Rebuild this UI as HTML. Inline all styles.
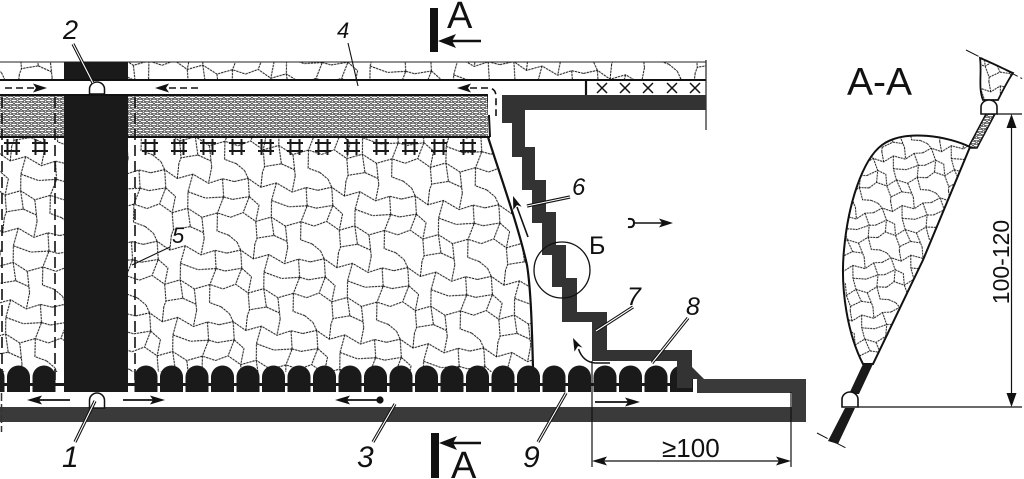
<!DOCTYPE html>
<html><head><meta charset="utf-8"><style>
html,body{margin:0;padding:0;background:#fff;}
svg{display:block;}
text{font-family:"Liberation Sans",sans-serif;fill:#111;}
.it{font-style:italic;}
</style></head><body>
<svg width="1024" height="479" viewBox="0 0 1024 479" xmlns="http://www.w3.org/2000/svg">
<defs>
<pattern id="rock" width="56" height="48" patternUnits="userSpaceOnUse" patternTransform="scale(1.5) rotate(6)">
<rect width="56" height="48" fill="#fff"/>
<path d="M0,8 L9,5 L18,10 L28,6 L39,11 L48,7 L56,8 M0,32 L8,28 L17,33 L27,29 L37,34 L47,30 L56,32 M9,5 L11,17 L8,28 M28,6 L26,18 L27,29 M48,7 L50,19 L47,30 M26,18 L38,21 L50,19 M0,20 L11,17 M50,19 L56,20 M17,33 L19,44 L18,48 M18,0 L18,10 M37,34 L40,48 M40,0 L39,11 M27,29 L30,41 L19,44 M47,30 L48,42 L56,44 M0,44 L6,48 M6,0 L9,5 M30,41 L39,44 M11,17 L18,22 L17,33" fill="none" stroke="#111" stroke-width="0.65" stroke-dasharray="1.6 0.5"/>
</pattern>
<pattern id="rock2" width="56" height="48" patternUnits="userSpaceOnUse" patternTransform="scale(1.05) rotate(-10)">
<rect width="56" height="48" fill="#fff"/>
<path d="M0,8 L9,5 L18,10 L28,6 L39,11 L48,7 L56,8 M0,32 L8,28 L17,33 L27,29 L37,34 L47,30 L56,32 M9,5 L11,17 L8,28 M28,6 L26,18 L27,29 M48,7 L50,19 L47,30 M26,18 L38,21 L50,19 M0,20 L11,17 M50,19 L56,20 M17,33 L19,44 L18,48 M18,0 L18,10 M37,34 L40,48 M40,0 L39,11 M27,29 L30,41 L19,44 M47,30 L48,42 L56,44 M0,44 L6,48 M6,0 L9,5 M30,41 L39,44 M11,17 L18,22 L17,33" fill="none" stroke="#111" stroke-width="0.9" stroke-dasharray="2 0.7"/>
</pattern>
<pattern id="mesh" width="7" height="6" patternUnits="userSpaceOnUse">
<rect width="7" height="6" fill="#fff"/>
<ellipse cx="3.5" cy="1.5" rx="3" ry="1.3" fill="none" stroke="#222" stroke-width="0.7"/>
<ellipse cx="0" cy="4.5" rx="3" ry="1.3" fill="none" stroke="#222" stroke-width="0.7"/>
<ellipse cx="7" cy="4.5" rx="3" ry="1.3" fill="none" stroke="#222" stroke-width="0.7"/>
</pattern>
<path id="arch" d="M0,392 V377 A11.5,11.5 0 0 1 23,377 V392 Z" fill="#1a1a1a"/>
<g id="sup" stroke="#1a1a1a" stroke-width="2" fill="none">
<path d="M-4.5,139 V155 M4.5,139 V155 M-8,143 H8 M-8,151 H8"/>
</g>
</defs>

<!-- top ore strip -->
<rect x="0" y="62" width="706" height="18" fill="url(#rock)"/>
<line x1="0" y1="62" x2="706" y2="62" stroke="#222" stroke-width="1"/>

<!-- main rock zone -->
<path d="M0,137 H488 C500,175 518,225 527,265 C531,290 532,330 533,372 H0 Z" fill="url(#rock)"/>
<path d="M488,137 C500,175 518,225 527,265 C531,290 532,330 533,368" fill="none" stroke="#111" stroke-width="2.2"/>

<!-- mesh zone -->
<rect x="0" y="95" width="488" height="42" fill="url(#mesh)"/>
<line x1="488" y1="95" x2="490" y2="137" stroke="#111" stroke-width="2"/>
<line x1="0" y1="137" x2="490" y2="137" stroke="#111" stroke-width="2"/>

<!-- support symbols -->
<g>
<use href="#sup" x="12" y="0"/><use href="#sup" x="40" y="0"/>
<use href="#sup" x="150" y="0"/><use href="#sup" x="179" y="0"/><use href="#sup" x="208" y="0"/><use href="#sup" x="237" y="0"/><use href="#sup" x="266" y="0"/><use href="#sup" x="295" y="0"/><use href="#sup" x="323" y="0"/><use href="#sup" x="352" y="0"/><use href="#sup" x="381" y="0"/><use href="#sup" x="410" y="0"/><use href="#sup" x="439" y="0"/><use href="#sup" x="468" y="0"/>
</g>

<!-- upper drift -->
<rect x="0" y="81" width="586" height="14" fill="#fff"/>
<rect x="488" y="95" width="14" height="20" fill="#fff"/>
<line x1="0" y1="80" x2="706" y2="80" stroke="#111" stroke-width="2"/>
<line x1="0" y1="95" x2="488" y2="95" stroke="#111" stroke-width="2"/>
<!-- crosses region -->
<line x1="586" y1="80" x2="586" y2="96" stroke="#111" stroke-width="2.2"/>
<g stroke="#111" stroke-width="1.5">
<path d="M597,83 L607,93 M607,83 L597,93"/>
<path d="M620,83 L630,93 M630,83 L620,93"/>
<path d="M643,83 L653,93 M653,83 L643,93"/>
<path d="M667,83 L677,93 M677,83 L667,93"/>
<path d="M690,83 L700,93 M700,83 L690,93"/>
</g>
<line x1="706" y1="60" x2="706" y2="130" stroke="#222" stroke-width="1.2"/>

<!-- dashed verticals -->
<g stroke="#111" stroke-width="1.6" stroke-dasharray="11 5" fill="none">
<line x1="55" y1="97" x2="55" y2="385"/>
<line x1="135" y1="97" x2="135" y2="385"/>
<line x1="2" y1="97" x2="2" y2="385"/>
</g>

<!-- pillar -->
<rect x="64" y="62" width="64" height="330" fill="#1a1a1a"/>
<rect x="64" y="81" width="64" height="13" fill="#fff"/>
<line x1="64" y1="80" x2="128" y2="80" stroke="#111" stroke-width="2"/>
<line x1="64" y1="95" x2="128" y2="95" stroke="#111" stroke-width="2"/>

<!-- arches -->
<rect x="0" y="383" width="692" height="3" fill="#1a1a1a"/>
<g>
<use href="#arch" x="-18.5"/><use href="#arch" x="7"/><use href="#arch" x="32.5"/>
<use href="#arch" x="134.5"/><use href="#arch" x="160"/><use href="#arch" x="185.5"/><use href="#arch" x="211"/><use href="#arch" x="236.5"/><use href="#arch" x="262"/><use href="#arch" x="287.5"/><use href="#arch" x="313"/><use href="#arch" x="338.5"/><use href="#arch" x="364"/><use href="#arch" x="389.5"/><use href="#arch" x="415"/><use href="#arch" x="440.5"/><use href="#arch" x="466"/><use href="#arch" x="491.5"/><use href="#arch" x="517"/><use href="#arch" x="542.5"/><use href="#arch" x="568"/><use href="#arch" x="593.5"/><use href="#arch" x="619"/><use href="#arch" x="644.5"/><use href="#arch" x="670"/>
</g>

<!-- stair face -->
<polygon fill="#333" points="502,95 706,95 706,110 525,110 525,147 535,147 535,180 546,180 546,212 556,212 556,245 566,245 566,278 577,278 577,312 607,312 607,350 692,350 692,367 704,379 692,379 692,388 677,388 677,361 592,361 592,322 562,322 562,287 552,287 552,255 542,255 542,223 532,223 532,190 522,190 522,157 512,157 512,123 502,123"/>
<!-- lower drift -->
<polygon fill="#3a3a3a" points="697,379 806,379 806,422 0,422 0,407 792,407 792,393 697,393"/>
<line x1="1.5" y1="393" x2="1.5" y2="432" stroke="#333" stroke-width="1.5" stroke-dasharray="8 3"/>

<!-- circle B -->
<circle cx="562" cy="270" r="28" fill="none" stroke="#111" stroke-width="1.3"/>
<text x="589" y="254" font-size="25">Б</text>

<!-- upper drift arrows -->
<g stroke="#111" stroke-width="1.6" stroke-dasharray="7 4" fill="none">
<line x1="5" y1="88" x2="34" y2="88"/>
<line x1="169" y1="88" x2="202" y2="88"/>
<path d="M470,88 H488 Q496,88 496,97 V116"/>
</g>
<g fill="#111">
<polygon points="47,88 33,83.5 36,88 33,92.5"/>
<polygon points="155,88 169,83.5 166,88 169,92.5"/>
<polygon points="457,88 471,83.5 468,88 471,92.5"/>
</g>

<!-- arch symbols -->
<path d="M89.5,94 V89 A7.5,7 0 0 1 104.5,89 V94 Z" fill="#fff" stroke="#111" stroke-width="1.5"/>
<path d="M89.5,408 V400.5 A7.5,7.5 0 0 1 104.5,400.5 V408 Z" fill="#fff" stroke="#111" stroke-width="1.5"/>

<!-- lower drift arrows -->
<g stroke="#111" stroke-width="1.8" fill="none">
<line x1="70" y1="400" x2="38" y2="400"/>
<line x1="123" y1="400" x2="154" y2="400"/>
<line x1="380" y1="400" x2="346" y2="400"/>
<line x1="595" y1="402" x2="628" y2="402"/>
</g>
<g fill="#111">
<polygon points="27,400 42,395.5 39,400 42,404.5"/>
<polygon points="165,400 150,395.5 153,400 150,404.5"/>
<circle cx="380" cy="400" r="3.6"/>
<polygon points="335,400 350,395.5 347,400 350,404.5"/>
<polygon points="640,402 625,397.5 628,402 625,406.5"/>
</g>

<!-- face arrows -->
<line x1="528" y1="237" x2="517" y2="207" stroke="#111" stroke-width="1.6"/>
<polygon points="513,196 521.7,206.7 517,205 513.3,209.7" fill="#111"/>
<path d="M610,363 H595 Q583,362 578.5,349" fill="none" stroke="#111" stroke-width="1.5"/>
<polygon points="573,338 582.5,347.6 578,346 574.5,351.6" fill="#111"/>

<!-- hook arrow -->
<path d="M628,219 Q634,218 634,223 Q634,228 628,227" fill="none" stroke="#111" stroke-width="2"/>
<line x1="634" y1="223" x2="662" y2="223" stroke="#111" stroke-width="1.6"/>
<polygon points="673,223 659,218.5 662,223 659,227.5" fill="#111"/>

<!-- dimension >=100 -->
<g stroke="#111" stroke-width="1.2">
<line x1="592" y1="361" x2="592" y2="467"/>
<line x1="791" y1="392" x2="791" y2="467"/>
<line x1="604" y1="461" x2="779" y2="461"/>
</g>
<polygon points="592,461 607,456.5 604,461 607,465.5" fill="#111"/>
<polygon points="791,461 776,456.5 779,461 776,465.5" fill="#111"/>
<text x="662" y="457" font-size="26">≥100</text>

<!-- section marks -->
<rect x="430" y="8" width="8" height="44" fill="#111"/>
<line x1="450" y1="41" x2="481" y2="41" stroke="#111" stroke-width="2.5"/>
<polygon points="438,41 456,34 452,41 456,48" fill="#111"/>
<text x="447" y="28" font-size="38">A</text>
<rect x="431" y="433" width="8" height="45" fill="#111"/>
<line x1="450" y1="443" x2="481" y2="443" stroke="#111" stroke-width="2.5"/>
<polygon points="439,443 457,436 453,443 457,450" fill="#111"/>
<text x="451" y="478" font-size="38">A</text>

<!-- leaders -->
<g stroke="#111" fill="none">
<g stroke-width="3.2">
<line x1="73" y1="44" x2="93" y2="83"/>
<line x1="570" y1="197" x2="527" y2="206"/>
<line x1="633" y1="307" x2="596" y2="331"/>
<line x1="688" y1="318" x2="652" y2="363"/>
<line x1="75" y1="442" x2="95" y2="401"/>
<line x1="373" y1="442" x2="395" y2="404"/>
<line x1="538" y1="442" x2="566" y2="393"/>
</g>
<g stroke="#fff" stroke-width="1.1">
<line x1="73" y1="44" x2="93" y2="83"/>
<line x1="570" y1="197" x2="527" y2="206"/>
<line x1="633" y1="307" x2="596" y2="331"/>
<line x1="688" y1="318" x2="652" y2="363"/>
<line x1="75" y1="442" x2="95" y2="401"/>
<line x1="373" y1="442" x2="395" y2="404"/>
<line x1="538" y1="442" x2="566" y2="393"/>
</g>
<line x1="348" y1="43" x2="358" y2="86" stroke-width="1.1"/>
<line x1="170" y1="247" x2="132" y2="265" stroke-width="1.1"/>
</g>

<!-- labels -->
<text class="it" x="63" y="39" font-size="27">2</text>
<text class="it" x="337" y="38" font-size="22">4</text>
<text class="it" x="172" y="243" font-size="22">5</text>
<text class="it" x="572" y="195" font-size="24">6</text>
<text class="it" x="627" y="305" font-size="25">7</text>
<text class="it" x="686" y="315" font-size="25">8</text>
<text class="it" x="62" y="467" font-size="30">1</text>
<text class="it" x="357" y="467" font-size="30">3</text>
<text class="it" x="523" y="467" font-size="30">9</text>

<!-- Section A-A -->
<text x="847" y="95" font-size="39">A-A</text>
<path d="M980,58 C982,72 978,88 983,100 L998,100 C1003,90 1008,80 1013,73 C1002,68 990,62 980,58 Z" fill="url(#rock2)" stroke="#111" stroke-width="1.8"/>
<line x1="966" y1="50" x2="1023" y2="79" stroke="#111" stroke-width="1" stroke-dasharray="14 3 2 3"/>
<polygon points="986,114 995,114 977,148 968,148" fill="url(#mesh)" stroke="#111" stroke-width="1.5"/>
<path d="M970,147 C950,137 905,128 882,145 C862,160 848,205 844,250 C840,290 848,335 863,364 L873,364 L923,260 Z" fill="url(#rock2)" stroke="#111" stroke-width="2"/>
<polygon points="863,364 873,364 859,394 849,394" fill="#1a1a1a"/>
<path d="M981,114 V107 A8,7 0 0 1 997,107 V114 Z" fill="#fff" stroke="#111" stroke-width="1.6"/>
<path d="M842,407 V399.5 A8,7.5 0 0 1 858,399.5 V407 Z" fill="#fff" stroke="#111" stroke-width="1.6"/>
<polygon points="845,408 855,408 838,444 828,441" fill="#1a1a1a"/>
<line x1="817" y1="433" x2="846" y2="448" stroke="#111" stroke-width="1" stroke-dasharray="12 3 2 3"/>
<line x1="997" y1="114" x2="1022" y2="114" stroke="#111" stroke-width="1.2"/>
<line x1="858" y1="407" x2="1022" y2="407" stroke="#111" stroke-width="1.2"/>
<line x1="1011.5" y1="124" x2="1011.5" y2="397" stroke="#111" stroke-width="1.2"/>
<polygon points="1011.5,114 1006.5,128 1016.5,128" fill="#111"/>
<polygon points="1011.5,407 1006.5,393 1016.5,393" fill="#111"/>
<text x="0" y="0" font-size="23" text-anchor="middle" transform="translate(1009,262) rotate(-90)">100-120</text>
</svg>
</body></html>
